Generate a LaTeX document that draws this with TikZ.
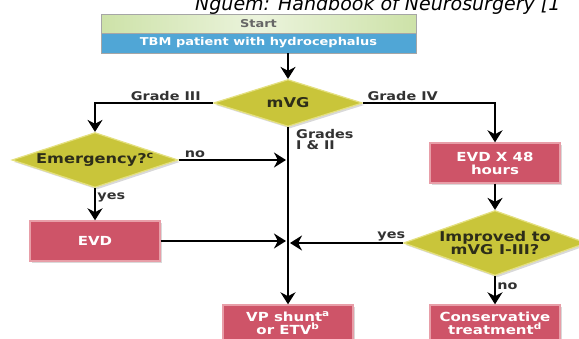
\documentclass[tikz,border=0pt]{standalone}
\usepackage{fontspec}
\setmainfont{DejaVu Sans}
\newfontfamily\flowfont[FakeStretch=1.2]{DejaVu Sans}
\newfontfamily\titlefont{DejaVu Sans}
\usetikzlibrary{arrows.meta,positioning,shapes.geometric,shadows,calc}
\definecolor{startgreen}{RGB}{205,226,168}
\definecolor{tbmblue}{RGB}{80,166,214}
\definecolor{boxred}{RGB}{206,84,104}
\definecolor{boxrim}{RGB}{232,158,168}
\definecolor{diafill}{RGB}{201,197,58}
\definecolor{diarim}{RGB}{228,224,128}
\definecolor{labgray}{RGB}{50,50,50}
\definecolor{diatext}{RGB}{45,45,25}

\begin{document}
\begin{tikzpicture}[
    x=1pt, y=-1pt,
    box/.style={rectangle, fill=boxred, draw=boxrim, line width=1.4pt, minimum width=130pt, minimum height=40pt,
        align=center, text=white, font=\flowfont\bfseries\fontsize{12.5}{13}\selectfont,
        drop shadow={opacity=0.3, shadow xshift=2pt, shadow yshift=-2pt}},
    decision/.style={diamond, aspect=3, inner sep=0pt, fill=diafill, draw=diarim, line width=1.2pt,
        align=center, text=diatext, font=\flowfont\bfseries\fontsize{13.5}{13.5}\selectfont,
        drop shadow={opacity=0.3, shadow xshift=2pt, shadow yshift=-2pt}},
    banner/.style={rectangle, minimum width=315pt, inner sep=0pt, draw=gray!70, line width=0.8pt,
        font=\flowfont\bfseries\fontsize{10.8}{11}\selectfont},
    flow/.style={-{Stealth[length=12pt,width=15pt]}, line width=2.8pt},
    lab/.style={font=\flowfont\bfseries\fontsize{12}{12}\selectfont, text=labgray, inner sep=1pt}
]
\useasboundingbox (0,0) rectangle (579,338);

% ============ header ============
\node[anchor=base west, inner sep=0pt, font=\titlefont\itshape\fontsize{19}{20}\selectfont] (source) at (195,10) {Nguem: Handbook of Neurosurgery [1};

\node[banner, minimum height=19pt, left color=startgreen, right color=startgreen, middle color=startgreen!40,
      text=gray!80!black] (start) at (258.5,23.5) {Start};
\node[banner, minimum height=20pt, fill=tbmblue, text=white] (tbm) at (258.5,43) {TBM patient with hydrocephalus};

% ============ decisions ============
\node[decision, minimum width=149pt, minimum height=47pt] (mvg) at (288,103) {mVG};
\node[decision, minimum width=166pt, minimum height=55pt] (emergency) at (95,160) {Emergency?\textsuperscript{c}};
\node[decision, minimum width=176pt, minimum height=65pt] (improved) at (495,243) {Improved to\\mVG I-III?};

% ============ actions ============
\node[box] (evd) at (95,241) {EVD};
\node[box] (evd48) at (495,163) {EVD X 48\\hours};
\node[box, minimum height=36pt] (vpshunt) at (288,323) {VP shunt\textsuperscript{a}\\or ETV\textsuperscript{b}};
\node[box, minimum height=36pt] (conservative) at (495,323) {Conservative\\treatment\textsuperscript{d}};

% ============ connectors ============
\draw[flow] (mvg.north |- tbm.south) -- (mvg.north);
\draw[flow] (mvg.west) -- node[lab, above, pos=0.4] {Grade III} (emergency.north |- mvg.west) -- (emergency.north);
\draw[flow] (mvg.east) -- node[lab, above, pos=0.3] {Grade IV} (evd48.north |- mvg.east) -- (evd48.north);
\draw[flow] (mvg.south) -- (vpshunt.north);
\node[lab, anchor=north west, align=left, font=\flowfont\bfseries\fontsize{12}{11.5}\selectfont] (grades) at (295,128) {Grades\\I \& II};

\draw[flow, shorten >=2pt] (emergency.east) -- node[lab, above, pos=0.15] {no} (emergency.east -| mvg.south);
\draw[flow] (emergency.south) -- node[lab, right, pos=0.3] {yes} (evd.north);
\draw[flow, shorten >=2pt] (evd.east) -- (evd.east -| mvg.south);
\draw[flow, shorten >=2pt] (improved.west) -- node[lab, above, pos=0.1] {yes} (improved.west -| mvg.south);
\draw[flow] (evd48.south) -- (improved.north);
\draw[flow] (improved.south) -- node[lab, right, pos=0.35] {no} (conservative.north);

\end{tikzpicture}
\end{document}
